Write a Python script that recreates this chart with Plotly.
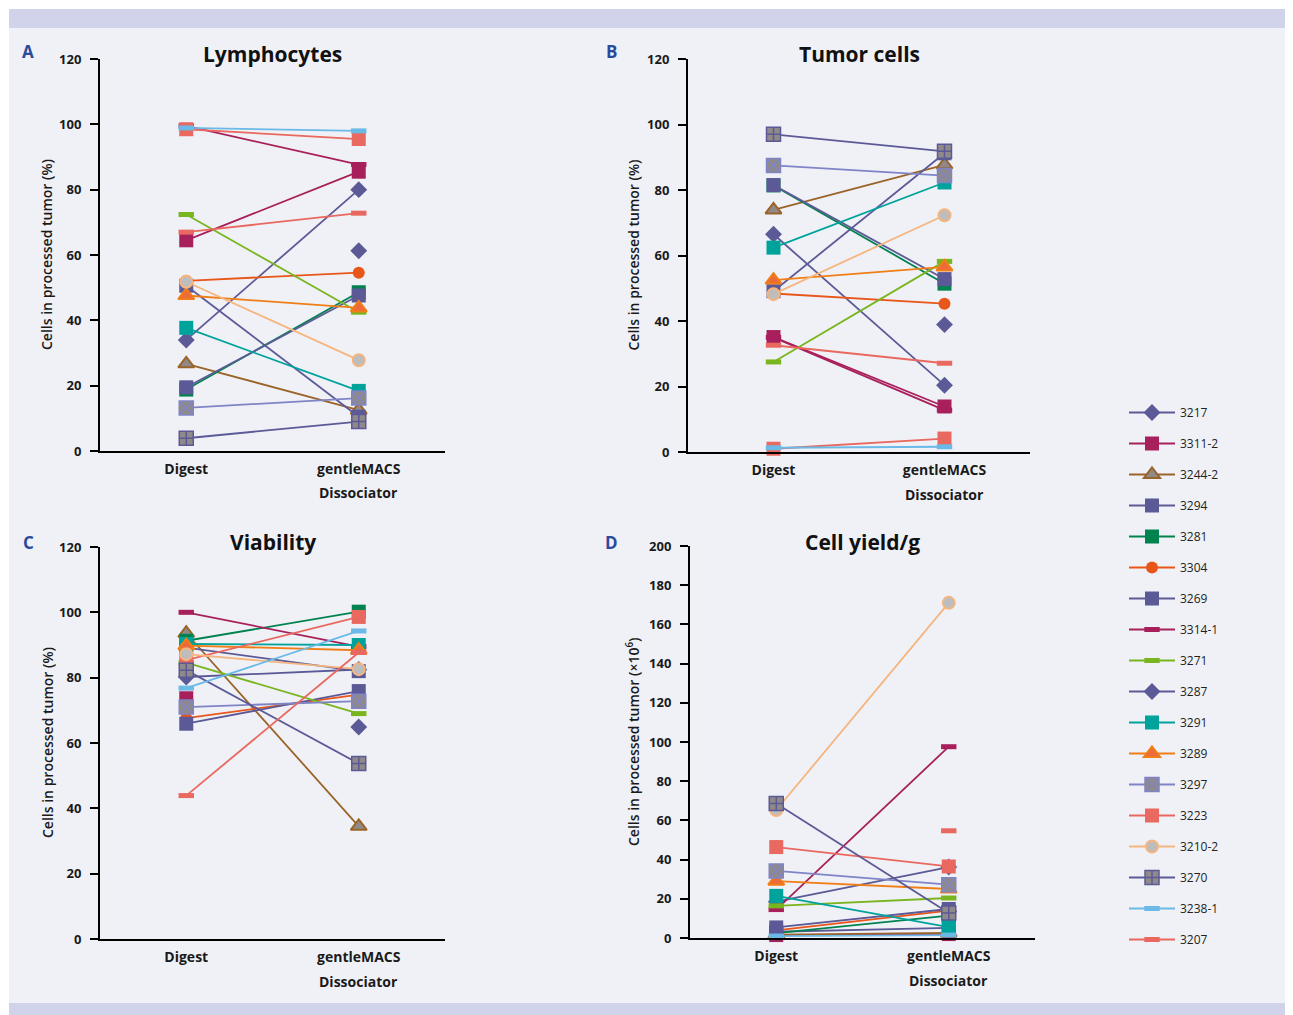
import plotly.graph_objects as go

# ---------------- data ----------------
series_names = ["3217", "3311-2", "3244-2", "3294", "3281", "3304", "3269", "3314-1", "3271",
                "3287", "3291", "3289", "3297", "3223", "3210-2", "3270", "3238-1", "3207"]

categories = ["Digest", "gentleMACS Dissociator"]
tick_labels = ["Digest", "gentleMACS"]

lymph_digest = [34.0, 64.5, 26.7, 50.6, 18.8, 52.1, 19.5, 99.5, 72.4,
                None, 37.7, 47.6, 13.2, 98.5, 51.8, 3.9, 98.9, 67.0]
lymph_gentle = [80.0, 85.5, 12.5, 10.5, 48.6, 54.6, 47.6, 87.7, 42.5,
                61.3, 18.4, 43.8, 16.2, 95.5, 27.8, 9.0, 98.0, 72.8]

tumor_digest = [66.5, 35.1, 73.9, 49.1, 81.4, 48.4, 81.5, 35.0, 27.5,
                None, 62.4, 52.5, 87.5, 1.0, 48.2, 97.0, 1.3, 32.6]
tumor_gentle = [20.4, 13.9, 87.7, 91.2, 51.4, 45.3, 52.8, 12.8, 58.2,
                38.9, 82.3, 56.5, 84.4, 4.1, 72.3, 91.8, 1.6, 27.1]

viab_digest = [80.2, 73.7, 93.6, 89.2, 91.3, 67.6, 65.9, 100.0, 84.6,
               None, 90.3, 89.8, 71.0, 85.4, 87.2, 82.3, 76.8, 43.9]
viab_gentle = [82.5, None, 34.5, 82.0, 100.2, 74.8, 75.9, 89.5, 69.0,
               64.9, 90.0, 88.4, 72.8, 98.6, 82.6, 53.7, 94.3, 87.7]

yield_digest = [18.5, 1.5, 1.7, 3.2, 2.5, 3.9, 5.4, 14.5, 16.4,
                None, 21.5, 29.0, 34.2, 46.4, 65.3, 68.6, 1.0, None]
yield_gentle = [36.2, 2.0, 2.6, 5.2, 11.4, 14.0, 14.8, 97.6, 20.4,
                13.5, 5.6, 25.0, 27.2, 36.5, 171.0, 12.8, 1.5, 54.7]

panel_titles = ["Lymphocytes", "Tumor cells", "Viability", "Cell yield/g"]
panel_letters = ["A", "B", "C", "D"]
y_titles = ["Cells in processed tumor (%)", "Cells in processed tumor (%)",
            "Cells in processed tumor (%)", "Cells in processed tumor (×10<sup>6</sup>)"]
y_max = [120, 120, 120, 200]

# ---------------- styles ----------------
SLATE = "#5c5a96"
CRIMSON = "#a8205b"
BROWN = "#9a6428"
GREEN = "#00834f"
ORANGERED = "#e8561a"
LIME = "#78b51e"
TEAL = "#00a39b"
ORANGE = "#f07e16"
LAVENDER = "#7f84c6"
SALMON = "#e9685f"
PEACH = "#f5b57e"
LIGHTBLUE = "#6bb9e6"
GRAY = "#8f8a89"

def sq(c):
    return dict(symbol="square", size=14, color=c, line=dict(width=0))

def bar(c):
    return dict(symbol="line-ew", size=11, color=c, line=dict(width=5, color=c))

styles = {
    "3217": (SLATE, dict(symbol="diamond", size=13, color=SLATE, line=dict(width=0))),
    "3311-2": (CRIMSON, sq(CRIMSON)),
    "3244-2": (BROWN, dict(symbol="triangle-up", size=14, color=GRAY, line=dict(width=2, color=BROWN))),
    "3294": (SLATE, sq(SLATE)),
    "3281": (GREEN, sq(GREEN)),
    "3304": (ORANGERED, dict(symbol="circle", size=12, color=ORANGERED, line=dict(width=0))),
    "3269": (SLATE, sq(SLATE)),
    "3314-1": (CRIMSON, bar(CRIMSON)),
    "3271": (LIME, bar(LIME)),
    "3287": (SLATE, dict(symbol="diamond", size=13, color=SLATE, line=dict(width=0))),
    "3291": (TEAL, sq(TEAL)),
    "3289": (ORANGE, dict(symbol="triangle-up", size=14, color="#ef6a3a", line=dict(width=2, color=ORANGE))),
    "3297": (LAVENDER, dict(symbol="square-x", size=14, color=GRAY, line=dict(width=1.5, color=LAVENDER))),
    "3223": (SALMON, sq(SALMON)),
    "3210-2": (PEACH, dict(symbol="circle", size=12, color="#bdbdbd", line=dict(width=2, color=PEACH))),
    "3270": (SLATE, dict(symbol="square-cross", size=14, color=GRAY, line=dict(width=1.5, color=SLATE))),
    "3238-1": (LIGHTBLUE, bar(LIGHTBLUE)),
    "3207": (SALMON, bar(SALMON)),
}

W, H = 1293, 1015
OFF = 8  # page body margin offset
FONT = "Open Sans"

def fx(p):
    return (p - OFF) / W

def fy(p):
    return 1 - (p - OFF) / H

# pixel boxes (x0, x1, ytop, ybottom) in screen coordinates
boxes = [(100, 445, 59, 451), (688, 1030, 59, 452), (100, 445, 547, 939), (690, 1035, 546, 938)]
panel_data = [(lymph_digest, lymph_gentle), (tumor_digest, tumor_gentle),
              (viab_digest, viab_gentle), (yield_digest, yield_gentle)]

fig = go.Figure()

for p in range(4):
    d, g = panel_data[p]
    suffix = "" if p == 0 else str(p + 1)
    for i, name in enumerate(series_names):
        lc, mk = styles[name]
        fig.add_trace(go.Scatter(
            x=categories, y=[d[i], g[i]], mode="lines+markers",
            name=name, legendgroup=name, showlegend=(p == 0),
            line=dict(color=lc, width=1.8), marker=mk,
            xaxis="x" + suffix, yaxis="y" + suffix, cliponaxis=False,
        ))

layout = dict(
    width=W, height=H, margin=dict(l=0, r=0, t=0, b=0, pad=0, autoexpand=False),
    paper_bgcolor="white", plot_bgcolor="rgba(0,0,0,0)",
    font=dict(family=FONT, color="#1a1a1a"),
    legend=dict(x=fx(1124), y=fy(398), xanchor="left", yanchor="top",
                traceorder="grouped", tracegroupgap=12, itemwidth=46,
                font=dict(family=FONT, size=12, color="#231f20"),
                bgcolor="rgba(0,0,0,0)"),
    shapes=[
        dict(type="rect", xref="paper", yref="paper", x0=fx(9), x1=1, y0=fy(28), y1=fy(9),
             fillcolor="#d0d3ea", line=dict(width=0), layer="below"),
        dict(type="rect", xref="paper", yref="paper", x0=fx(9), x1=1, y0=fy(1003), y1=fy(28),
             fillcolor="#f0f1f7", line=dict(width=0), layer="below"),
        dict(type="rect", xref="paper", yref="paper", x0=fx(9), x1=1, y0=0, y1=fy(1003),
             fillcolor="#d0d3ea", line=dict(width=0), layer="below"),
    ],
    annotations=[],
)

for p in range(4):
    x0, x1, yt, yb = boxes[p]
    suffix = "" if p == 0 else str(p + 1)
    layout["xaxis" + suffix] = dict(
        domain=[fx(x0), fx(x1)], anchor="y" + suffix, type="category", automargin=False,
        range=[-0.5, 1.5], tickmode="array", tickvals=categories, ticktext=tick_labels,
        showline=True, linecolor="black", linewidth=2, ticks="", showgrid=False, zeroline=False,
        ticklabelstandoff=4,
        tickfont=dict(family=FONT, size=14, color="#1a1a1a", weight="bold"),
    )
    layout["yaxis" + suffix] = dict(
        domain=[fy(yb), fy(yt)], anchor="x" + suffix, range=[0, y_max[p]], dtick=20,
        showline=True, linecolor="black", linewidth=2, ticks="outside", ticklen=8, automargin=False,
        tickwidth=2, tickcolor="black", showgrid=False, zeroline=False, ticklabelstandoff=6,
        tickfont=dict(family=FONT, size=13, color="#1a1a1a", weight="bold"),
    )
    cx = (x0 + x1) / 2
    ty = 54 if p < 2 else 542
    layout["annotations"] += [
        dict(text=panel_titles[p], xref="paper", yref="paper", x=fx(cx), y=fy(ty),
             xanchor="center", yanchor="middle", showarrow=False,
             font=dict(family=FONT, size=21, color="#111", weight="bold")),
        dict(text=panel_letters[p], xref="paper", yref="paper",
             x=fx(28 if p in (0, 2) else 611), y=fy(51 if p < 2 else 542),
             xanchor="center", yanchor="middle", showarrow=False,
             font=dict(family=FONT, size=17, color="#2b4a9b", weight="bold")),
        dict(text=y_titles[p], xref="paper", yref="paper", textangle=-90,
             x=fx(47 if p in (0, 2) else 633), y=fy((yt + yb) / 2),
             xanchor="center", yanchor="middle", showarrow=False,
             font=dict(family=FONT, size=14, color="#1a1a1a", weight=600)),
        dict(text="Dissociator", xref="x" + suffix, yref="paper", x=1, y=fy(yb + 42),
             xanchor="center", yanchor="middle", showarrow=False,
             font=dict(family=FONT, size=14, color="#1a1a1a", weight="bold")),
    ]

fig.update_layout(**layout)
fig.write_html("out.html")
